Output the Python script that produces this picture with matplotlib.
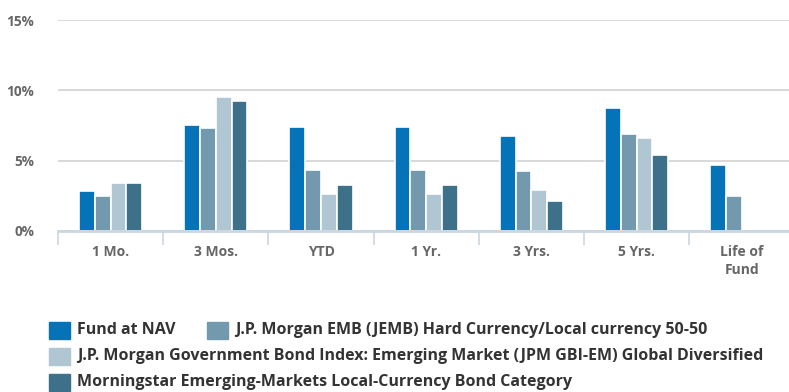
import matplotlib
matplotlib.use("Agg")
import matplotlib.pyplot as plt
from matplotlib.patches import Rectangle
import numpy as np

# Trailing returns (%) by period
periods = ["1 Mo.", "3 Mos.", "YTD", "1 Yr.", "3 Yrs.", "5 Yrs.", "Life of\nFund"]
fund_nav = [2.81, 7.57, 7.38, 7.38, 6.74, 8.74, 4.67]
jemb_5050 = [2.50, 7.29, 4.36, 4.36, 4.26, 6.90, 2.50]
gbi_em = [3.40, 9.50, 2.64, 2.64, 2.90, 6.60, np.nan]
ms_category = [3.40, 9.24, 3.29, 3.29, 2.14, 5.38, np.nan]

series_names = [
    "Fund at NAV",
    "J.P. Morgan EMB (JEMB) Hard Currency/Local currency 50-50",
    "J.P. Morgan Government Bond Index: Emerging Market (JPM GBI-EM) Global Diversified",
    "Morningstar Emerging-Markets Local-Currency Bond Category",
]
series_values = [fund_nav, jemb_5050, gbi_em, ms_category]
colors = ["#0573b8", "#7399ae", "#b0c6d3", "#3c7189"]

y_ticks = [0, 5, 10, 15]

plt.rcParams["font.family"] = ["Open Sans", "DejaVu Sans"]

W, H = 789, 392
fig = plt.figure(figsize=(W / 100, H / 100), dpi=100)
ax = fig.add_axes([58 / W, 1 - 231 / H, (794.5 - 58) / W, (231 - 20) / H])

x = np.arange(len(periods))
bw = 0.15
for i, (vals, c) in enumerate(zip(series_values, colors)):
    ax.bar(x + (i - 1.5) * bw, vals, width=bw, color=c,
           edgecolor="white", linewidth=1.2, zorder=3)

ax.set_xlim(-0.5, len(periods) - 0.5)
ax.set_ylim(0, 15)
ax.set_yticks(y_ticks)
ax.set_yticklabels([f"{v}%" for v in y_ticks])
ax.grid(axis="y", color="#d6d6d6", linewidth=1.3, zorder=0)
ax.set_axisbelow(True)

for s in ["top", "right", "left"]:
    ax.spines[s].set_visible(False)
ax.spines["bottom"].set_color("#ccd6e0")
ax.spines["bottom"].set_linewidth(2)
ax.spines["bottom"].set_zorder(4)

# category boundaries as tick marks, labels at centres
ax.set_xticks(np.arange(len(periods) + 1) - 0.5)
ax.set_xticklabels([])
ax.set_xticks(x, minor=True)
ax.set_xticklabels(periods, minor=True, fontsize=10, fontweight="bold",
                   color="#666666", linespacing=1.35, va="top")
ax.tick_params(axis="x", which="major", length=10, width=1.2, color="#ccd6e0")
ax.tick_params(axis="x", which="minor", length=0, pad=10)
ax.tick_params(axis="y", length=0, pad=17, labelsize=9.8, labelcolor="#666666")
for t in ax.get_yticklabels():
    t.set_fontweight("bold")

# legend laid out in rows like the web widget
legend_items = [(0, 49, 322), (1, 207, 322), (2, 49, 348), (3, 49, 374)]
for idx, lx, ly in legend_items:
    fig.add_artist(Rectangle((lx / W, 1 - (ly + 17) / H), 21 / W, 17 / H,
                             transform=fig.transFigure, color=colors[idx]))
    fig.text((lx + 28) / W, 1 - (ly + 8.5) / H, series_names[idx],
             fontsize=11.5, fontweight="bold", color="#333333",
             ha="left", va="center")

fig.savefig("out.png", dpi=100)
